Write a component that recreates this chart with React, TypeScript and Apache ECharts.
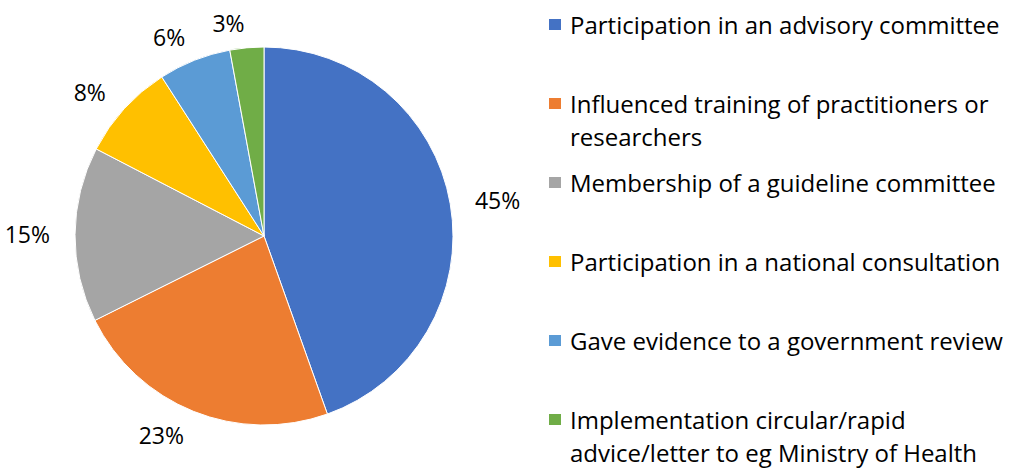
import React, { useEffect, useRef } from "react";
import * as echarts from "echarts";

const categories = [
  "Participation in an advisory committee",
  "Influenced training of practitioners or researchers",
  "Membership of a guideline committee",
  "Participation in a national consultation",
  "Gave evidence to a government review",
  "Implementation circular/rapid advice/letter to eg Ministry of Health",
];
// legend text lines as wrapped in the reference
const legendLines = [
  ["Participation in an advisory committee"],
  ["Influenced training of practitioners or", "researchers"],
  ["Membership of a guideline committee"],
  ["Participation in a national consultation"],
  ["Gave evidence to a government review"],
  ["Implementation circular/rapid", "advice/letter to eg Ministry of Health"],
];
const values = [44.6, 23.1, 15.0, 8.3, 6.2, 2.9];
const colors = ["#4472C4", "#ED7D31", "#A5A5A5", "#FFC000", "#5B9BD5", "#70AD47"];

const FONT = "Open Sans";
const FS = 24;
const LH = 33;

export default function App() {
  const ref = useRef<HTMLDivElement>(null);
  useEffect(() => {
    if (!ref.current) return;
    const chart = echarts.init(ref.current, undefined, { renderer: "svg" });
    const firstCenter = 24.5;
    const step = 79;
    const legends = categories.map((name, i) => {
      const lines = legendLines[i];
      const text = lines.length > 1 ? [" ", ...lines].join("\n") : lines[0];
      return {
        show: true,
        data: [name],
        orient: "vertical",
        left: 547,
        top: firstCenter + i * step - ((lines.length > 1 ? lines.length + 1 : 1) * LH) / 2,
        padding: 0,
        itemWidth: 14,
        itemHeight: 13,
        icon: "rect",
        selectedMode: false,
        formatter: () => text,
        textStyle: {
          fontFamily: FONT,
          fontSize: FS,
          lineHeight: LH,
          color: "#000",
          padding: [0, 0, 0, 3],
        },
      };
    });
    chart.setOption({
      animation: false,
      color: colors,
      legend: legends,
      series: [
        {
          type: "pie",
          center: [264, 236],
          radius: 189,
          startAngle: 90,
          clockwise: true,
          avoidLabelOverlap: false,
          data: categories.map((c, i) => ({ name: c, value: values[i] })),
          itemStyle: { borderColor: "#fff", borderWidth: 1 },
          label: {
            show: true,
            position: "outside",
            fontFamily: FONT,
            fontSize: 23,
            color: "#000",
            distanceToLabelLine: 0,
            formatter: (p: any) => Math.round(p.percent) + "%",
          },
          labelLine: { show: false, length: 25, length2: 0 },
          emphasis: { disabled: true },
        },
      ],
    });
    return () => chart.dispose();
  }, []);
  return (
    <div
      ref={ref}
      style={{ position: "fixed", left: 0, top: 0, width: 1019, height: 470, background: "#fff" }}
    />
  );
}
